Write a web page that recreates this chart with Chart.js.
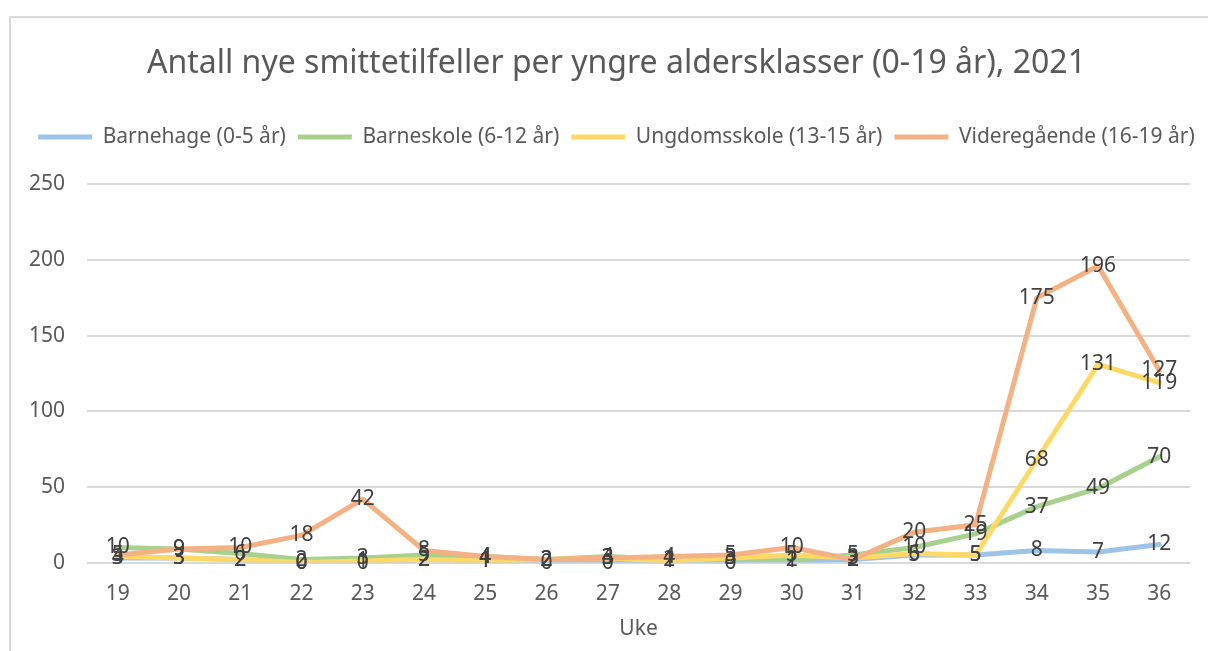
<!DOCTYPE html>
<html>
<head>
<meta charset="utf-8">
<script src="https://cdn.jsdelivr.net/npm/chart.js@4"></script>
<style>
  html, body { margin: 0; padding: 0; background: #fff; overflow: hidden; }
  #wrap { width: 1208px; height: 651px; overflow: hidden; }
</style>
</head>
<body>
<div id="wrap"><canvas id="smitteChart" width="1232" height="651"></canvas></div>
<script>
// uker og smittetall lest av figuren
const weeks = ["19","20","21","22","23","24","25","26","27","28","29","30","31","32","33","34","35","36"];
const barnehage   = [3, 3, 2, 0, 0, 2, 1, 0, 0, 1, 0, 1, 2, 5, 5, 8, 7, 12];
const barneskole  = [10, 9, 6, 2, 3, 5, 4, 2, 4, 2, 3, 2, 5, 10, 19, 37, 49, 70];
const ungdom      = [4, 3, 2, 0, 1, 2, 1, 2, 3, 1, 3, 5, 3, 6, 5, 68, 131, 119];
const videregaende = [5, 9, 10, 18, 42, 8, 4, 2, 3, 4, 5, 10, 2, 20, 25, 175, 196, 127];
const yTicks = [0, 50, 100, 150, 200, 250];

const FONT = "'Noto Sans', 'Open Sans', sans-serif";
const ctx = document.getElementById("smitteChart").getContext("2d");

// tegner ramme rundt diagrammet
const frame = {
  id: "frame",
  beforeDraw(chart) {
    const c = chart.ctx;
    c.save();
    c.strokeStyle = "#d9d9d9";
    c.lineWidth = 2;
    c.strokeRect(10, 17, 1400, 900);
    c.restore();
  }
};

// ekstra luft under tegnforklaringen
const legendGap = {
  id: "legendGap",
  afterInit(chart) {
    const fit = chart.legend.fit;
    chart.legend.fit = function () {
      fit.call(this);
      this.height += 27;
    };
  }
};

// dataetiketter midt på punktene
const pointLabels = {
  id: "pointLabels",
  afterDatasetsDraw(chart) {
    const c = chart.ctx;
    c.save();
    c.font = "21px " + FONT;
    c.fillStyle = "#404040";
    c.textAlign = "center";
    c.textBaseline = "middle";
    chart.data.datasets.forEach((ds, i) => {
      const meta = chart.getDatasetMeta(i);
      meta.data.forEach((pt, j) => {
        c.fillText(String(ds.data[j]), pt.x, pt.y);
      });
    });
    c.restore();
  }
};

function series(label, data, color, order) {
  return {
    label: label,
    data: data,
    borderColor: color,
    backgroundColor: color,
    borderWidth: 5,
    borderCapStyle: "round",
    borderJoinStyle: "round",
    pointRadius: 0,
    tension: 0,
    order: order
  };
}

const chart = new Chart(ctx, {
  type: "line",
  data: {
    labels: weeks,
    datasets: [
      series("Barnehage (0-5 år)", barnehage, "#9dc3e6", 3),
      series("Barneskole (6-12 år)", barneskole, "#a9d18e", 2),
      series("Ungdomsskole (13-15 år)", ungdom, "#ffd966", 1),
      series("Videregående (16-19 år)", videregaende, "#f4b183", 0)
    ]
  },
  options: {
    responsive: false,
    animation: false,
    layout: { padding: { top: 20, left: 7, right: 6, bottom: 9 } },
    plugins: {
      tooltip: { enabled: false },
      title: {
        display: true,
        text: "Antall nye smittetilfeller per yngre aldersklasser (0-19 år), 2021",
        color: "#595959",
        font: { family: FONT, size: 32, weight: "normal" },
        padding: { top: 25, bottom: 31 }
      },
      legend: {
        position: "top",
        labels: {
          color: "#595959",
          font: { family: FONT, size: 21 },
          usePointStyle: true,
          pointStyle: "line",
          pointStyleWidth: 54,
          boxHeight: 21,
          padding: 12,
          sort: (a, b) => a.datasetIndex - b.datasetIndex
        }
      }
    },
    scales: {
      x: {
        offset: true,
        grid: { display: false, drawTicks: false },
        border: { display: false },
        ticks: { color: "#595959", font: { family: FONT, size: 21 }, padding: 19 },
        title: {
          display: true,
          text: "Uke",
          color: "#595959",
          font: { family: FONT, size: 21 },
          padding: { top: -9, bottom: 0 }
        }
      },
      y: {
        min: 0,
        max: 250,
        afterBuildTicks: (axis) => { axis.ticks = yTicks.map(v => ({ value: v })); },
        grid: { color: "#d9d9d9", lineWidth: 2, drawTicks: false },
        border: { display: false },
        ticks: { color: "#595959", font: { family: FONT, size: 21 }, padding: 22 }
      },
      // tom akse til høyre, holder plass slik diagrammet i originalen er beskåret
      yRight: {
        position: "right",
        min: 0,
        max: 250,
        grid: { display: false, drawTicks: false },
        border: { display: false },
        ticks: { display: false },
        afterFit: (axis) => { axis.width = 36; }
      }
    }
  },
  plugins: [frame, legendGap, pointLabels]
});
</script>
</body>
</html>
